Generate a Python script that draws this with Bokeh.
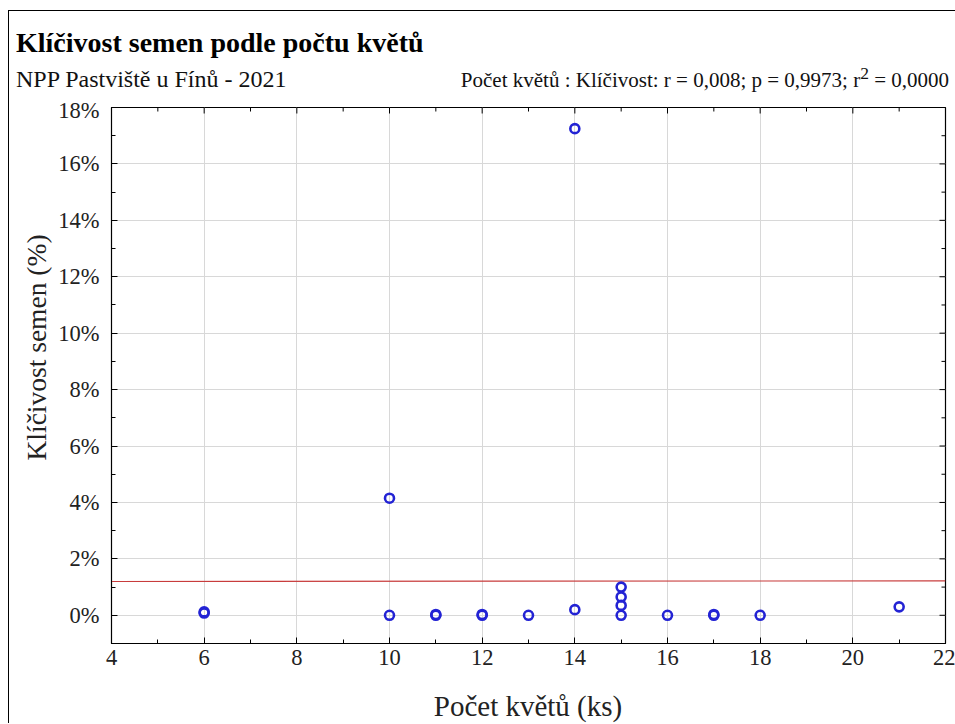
import numpy as np
from bokeh.plotting import figure
from bokeh.layouts import column
from bokeh.models import FixedTicker, PrintfTickFormatter, Range1d, Div, Title
from bokeh.embed import file_html
from bokeh.resources import INLINE

# ---- data ----
flowers = [6, 6, 10, 10, 11, 11, 12, 12, 13, 14, 14, 15, 15, 15, 15, 16, 17, 17, 18, 21]
germination = [0.08, 0.12, 4.15, 0.0, 0.0, 0.03, 0.0, 0.03, 0.0, 17.25, 0.2,
               0.0, 0.35, 0.65, 1.0, 0.0, 0.0, 0.03, 0.0, 0.3]
x_ticks = [4, 6, 8, 10, 12, 14, 16, 18, 20, 22]
x_minor = [5, 7, 9, 11, 13, 15, 17, 19, 21]
y_ticks = [0, 2, 4, 6, 8, 10, 12, 14, 16, 18]
y_minor = [-1, 1, 3, 5, 7, 9, 11, 13, 15, 17]
title_text = "Klíčivost semen podle počtu květů"
subtitle_text = "NPP Pastviště u Fínů - 2021"
stats_text = "Počet květů : Klíčivost: r = 0,008; p = 0,9973; r<sup>2</sup> = 0,0000"
x_label = "Počet květů (ks)"
y_label = "Klíčivost semen (%)"

FONT = "Liberation Serif"
X0, X1, Y0, Y1 = 4, 22, -1, 18
W = 946
HEAD_H = 86
FIG_H = 586
FOOT_H = 40

header = Div(
    text=(
        f'<div style="position:relative;width:{W}px;height:{HEAD_H}px;'
        f'font-family:\'{FONT}\',serif;color:#111;line-height:1;">'
        f'<div style="position:absolute;left:7px;top:18px;font-size:28px;font-weight:bold;'
        f'white-space:nowrap;color:#000;">{title_text}</div>'
        f'<div style="position:absolute;left:7px;top:56px;font-size:24px;'
        f'white-space:nowrap;">{subtitle_text}</div>'
        f'<div style="position:absolute;right:6px;top:54px;font-size:21px;'
        f'white-space:nowrap;">{stats_text}</div>'
        '</div>'
    ),
    width=W, height=HEAD_H, margin=0,
)

p = figure(width=W, height=FIG_H, output_backend="svg", toolbar_location=None,
           x_range=Range1d(X0, X1), y_range=Range1d(Y0, Y1),
           min_border_left=102, min_border_right=10, min_border_top=10, min_border_bottom=40,
           background_fill_color="white", border_fill_color="white", margin=0)

p.outline_line_color = "black"
p.outline_line_width = 1.2

def style_axis(ax, ticks, minor):
    ax.ticker = FixedTicker(ticks=ticks, minor_ticks=minor)
    ax.major_tick_in = 6
    ax.major_tick_out = 0
    ax.minor_tick_in = 4
    ax.minor_tick_out = 0
    ax.axis_line_color = "black"
    ax.major_tick_line_color = "black"
    ax.minor_tick_line_color = "black"
    ax.major_label_text_font = FONT
    ax.major_label_text_color = "#222222"
    ax.major_label_text_font_size = "22.5px"

style_axis(p.xaxis[0], x_ticks, x_minor)
style_axis(p.yaxis[0], y_ticks, y_minor)
p.yaxis[0].formatter = PrintfTickFormatter(format="%d%%")
p.xaxis[0].major_label_standoff = 6
p.yaxis[0].major_label_standoff = 12

p.add_layout(Title(text=y_label, align="left", offset=183, standoff=8,
                   text_font=FONT, text_font_size="27.5px", text_font_style="normal",
                   text_color="#222222"), "left")

p.xgrid.ticker = FixedTicker(ticks=x_ticks)
p.ygrid.ticker = FixedTicker(ticks=y_ticks)
p.xgrid.grid_line_color = "#d8d8d8"
p.ygrid.grid_line_color = "#d8d8d8"

# inner ticks on the top and right edges (half of each dash is clipped by the frame)
p.scatter(x_ticks, [Y1] * len(x_ticks), marker="dash", angle=np.pi / 2, size=12,
          line_color="black", line_width=1)
p.scatter(x_minor, [Y1] * len(x_minor), marker="dash", angle=np.pi / 2, size=8,
          line_color="black", line_width=1)
p.scatter([X1] * len(y_ticks), y_ticks, marker="dash", size=12,
          line_color="black", line_width=1)
p.scatter([X1] * len(y_minor), y_minor, marker="dash", size=8,
          line_color="black", line_width=1)

# regression line
slope, intercept = np.polyfit(flowers, germination, 1)
xs = [X0, X1]
p.line(xs, [intercept + slope * v for v in xs], line_color="#c83c3c", line_width=1.2)

# points
p.scatter(flowers, germination, marker="circle", size=9, fill_color=None,
          line_color="#2323d4", line_width=2.6)

footer = Div(
    text=(
        f'<div style="position:relative;width:{W}px;height:{FOOT_H}px;'
        f'font-family:\'{FONT}\',serif;color:#222;line-height:1;">'
        f'<div style="position:absolute;left:519px;top:9px;transform:translateX(-50%);'
        f'font-size:29px;white-space:nowrap;">{x_label}</div>'
        '</div>'
    ),
    width=W, height=FOOT_H, margin=0,
)

layout = column(header, p, footer, spacing=0, margin=(10, 0, 0, 8),
                styles={"border-left": "1px solid black", "border-top": "1px solid black"})

open("out.html", "w").write(file_html(layout, INLINE))
